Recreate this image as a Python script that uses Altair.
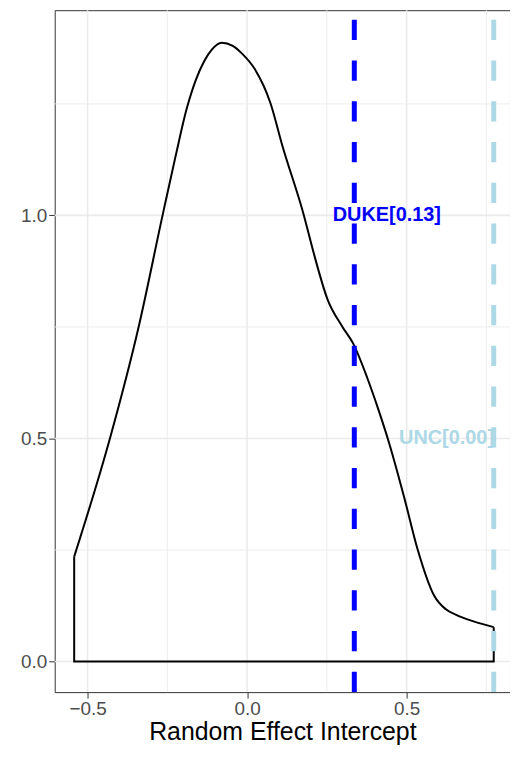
import altair as alt
import pandas as pd

# density curve
curve_x = [-0.542, -0.430, -0.340, -0.265, -0.225, -0.189, -0.160, -0.135, -0.110, -0.080,
           -0.045, -0.015, 0.024, 0.073, 0.111, 0.178, 0.206, 0.252, 0.299, 0.333,
           0.377, 0.410, 0.445, 0.492, 0.535, 0.586, 0.623, 0.657, 0.710, 0.773]
curve_y = [0.235, 0.500, 0.750, 1.000, 1.130, 1.240, 1.305, 1.345, 1.372, 1.387,
           1.380, 1.362, 1.328, 1.252, 1.155, 1.000, 0.923, 0.812, 0.750, 0.712,
           0.635, 0.568, 0.490, 0.369, 0.250, 0.148, 0.117, 0.104, 0.090, 0.077]

line_names = ["DUKE[0.13]", "UNC[0.00]"]
line_x = [0.336, 0.773]
label_x = [0.438, 0.625]
label_y = [1.0, 0.5]
line_colors = ["#0000FF", "#ADD8E6"]

x_major = [-0.5, 0.0, 0.5]
x_minor = [-0.25, 0.25, 0.75]
y_major = [0.0, 0.5, 1.0]
y_minor = [0.25, 0.75, 1.25]

x_domain = [-0.603, 0.824]
y_domain = [-0.0686, 1.460]

W, H = 458, 686
FONT = "Liberation Sans"

xs = alt.Scale(domain=x_domain, nice=False, zero=False)
ys = alt.Scale(domain=y_domain, nice=False, zero=False)
x_axis = alt.Axis(values=x_major, format=".1f", grid=False, domain=False,
                  title="Random Effect Intercept")
y_axis = alt.Axis(values=y_major, format=".1f", grid=False, domain=False, title=None)


def X(field):
    return alt.X(field, type="quantitative", scale=xs, axis=x_axis)


def Y(field):
    return alt.Y(field, type="quantitative", scale=ys, axis=y_axis)


curve_df = pd.DataFrame({"x": curve_x, "y": curve_y})
edge_df = pd.DataFrame({
    "x": [curve_x[0], curve_x[0], curve_x[-1], curve_x[-1]],
    "y": [curve_y[0], 0.0, 0.0, curve_y[-1]],
    "o": [0, 1, 2, 3],
})
lines_df = pd.DataFrame({"name": line_names, "x": line_x, "lx": label_x,
                         "ly": label_y, "color": line_colors})

grid_x_major = alt.Chart(pd.DataFrame({"x": x_major})).mark_rule(
    color="#EBEBEB", strokeWidth=1.6).encode(x=X("x"))
grid_x_minor = alt.Chart(pd.DataFrame({"x": x_minor})).mark_rule(
    color="#EBEBEB", strokeWidth=0.9).encode(x=X("x"))
grid_y_major = alt.Chart(pd.DataFrame({"y": y_major})).mark_rule(
    color="#EBEBEB", strokeWidth=1.6).encode(y=Y("y"))
grid_y_minor = alt.Chart(pd.DataFrame({"y": y_minor})).mark_rule(
    color="#EBEBEB", strokeWidth=0.9).encode(y=Y("y"))

curve = alt.Chart(curve_df).mark_line(
    color="black", strokeWidth=2, interpolate="monotone").encode(x=X("x"), y=Y("y"))
edges = alt.Chart(edge_df).mark_line(
    color="black", strokeWidth=2).encode(x=X("x"), y=Y("y"), order="o:Q")

vlines = alt.Chart(lines_df).mark_rule(
    strokeWidth=5, strokeDash=[20.5, 20.5]).encode(
    x=X("x"), y=alt.value(H), y2=alt.value(0),
    color=alt.Color("color:N", scale=None))

labels = alt.Chart(lines_df).mark_text(
    font=FONT, fontSize=20, fontWeight="bold", align="center", baseline="middle").encode(
    x=X("lx"), y=Y("ly"), text="name:N", color=alt.Color("color:N", scale=None))

chart = alt.layer(
    grid_x_minor, grid_y_minor, grid_x_major, grid_y_major,
    curve, edges, vlines, labels
).properties(
    width=W, height=H,
    autosize=alt.AutoSizeParams(type="none"),
    padding={"left": 47, "top": 0, "right": 0, "bottom": 52},
).configure_view(
    stroke="#333333", strokeWidth=1
).configure_axis(
    labelFont=FONT, labelFontSize=19, labelColor="#4D4D4D",
    tickColor="#333333", tickSize=6, tickWidth=1, labelPadding=2,
    titleFont=FONT, titleFontSize=25, titleColor="black", titleFontWeight="normal",
    titlePadding=1,
)

chart.save("out.html", embed_options={"renderer": "svg", "actions": False})
